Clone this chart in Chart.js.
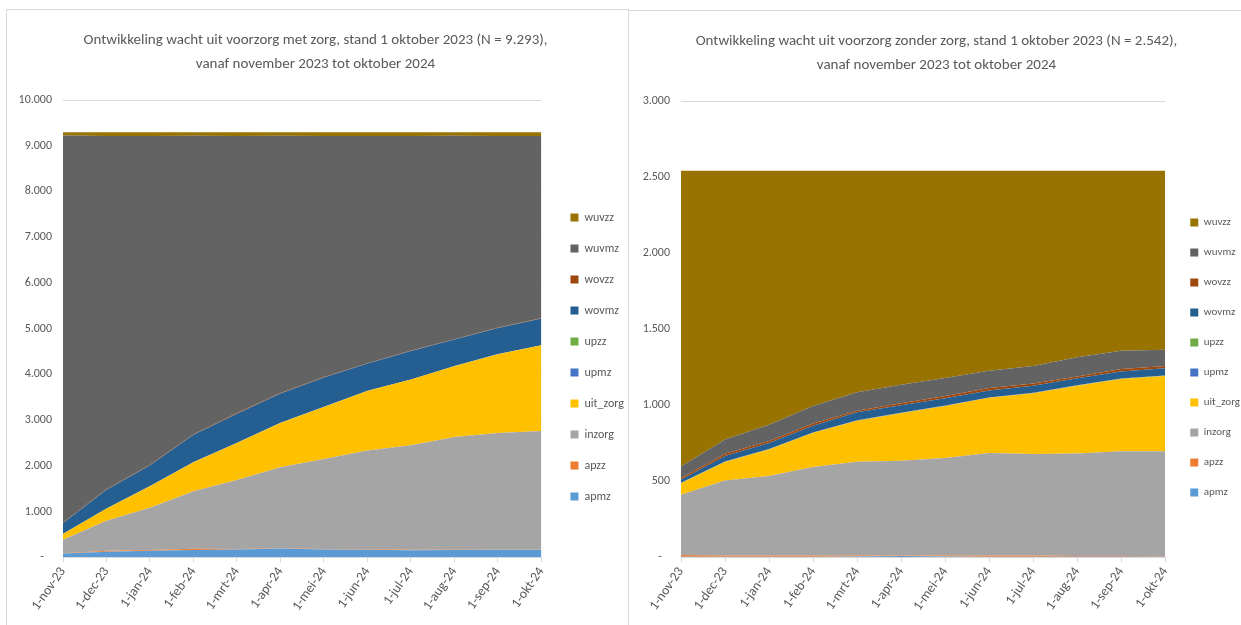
<!DOCTYPE html>
<html>
<head>
<meta charset="utf-8">
<script src="https://cdn.jsdelivr.net/npm/chart.js@4/dist/chart.umd.min.js"></script>
<style>
    body { margin: 0; background: #fff; overflow: hidden; }
    .panel { position: absolute; border-left: 1px solid #d9d9d9; border-top: 1px solid #d9d9d9; }
    #left-panel { left: 6px; top: 9px; width: 622px; height: 616px; }
    #right-panel { left: 628px; top: 10px; width: 613px; height: 615px; }
</style>
</head>
<body>
<div class="panel" id="left-panel"><canvas id="chart-met" width="621" height="615"></canvas></div>
<div class="panel" id="right-panel"><canvas id="chart-zonder" width="612" height="614"></canvas></div>
<script>
// Categories
const months = ['1-nov-23', '1-dec-23', '1-jan-24', '1-feb-24', '1-mrt-24', '1-apr-24', '1-mei-24', '1-jun-24', '1-jul-24', '1-aug-24', '1-sep-24', '1-okt-24']
const seriesNames = ['apmz', 'apzz', 'inzorg', 'uit_zorg', 'upmz', 'upzz', 'wovmz', 'wovzz', 'wuvmz', 'wuvzz']
const seriesColors = ['#5b9bd5', '#ed7d31', '#a5a5a5', '#ffc000', '#4472c4', '#70ad47', '#255e91', '#9e480e', '#636363', '#997300']

// Wacht uit voorzorg MET zorg (N = 9.293)
const metApmz = [80, 120, 140, 160, 170, 190, 170, 165, 155, 160, 165, 165]
const metApzz = [5, 20, 20, 25, 10, 5, 10, 10, 10, 5, 5, 5]
const metInzorg = [295, 660, 920, 1260, 1510, 1775, 1970, 2160, 2285, 2465, 2550, 2590]
const metUitZorg = [130, 260, 475, 635, 810, 965, 1135, 1300, 1435, 1545, 1720, 1875]
const metUpmz = [2, 3, 3, 4, 3, 3, 4, 3, 3, 4, 3, 3]
const metUpzz = [0, 1, 1, 1, 1, 1, 1, 1, 1, 1, 1, 1]
const metWovmz = [238, 411, 451, 595, 636, 641, 640, 596, 621, 580, 571, 581]
const metWovzz = [10, 12, 12, 12, 12, 10, 10, 10, 10, 10, 10, 10]
const metWuvmz = [8463, 7726, 7191, 6526, 6061, 5628, 5273, 4968, 4693, 4448, 4188, 3983]
const metWuvzz = [70, 80, 80, 75, 80, 75, 80, 80, 80, 75, 80, 80]

// Wacht uit voorzorg ZONDER zorg (N = 2.542)
const zonApmz = [3, 3, 3, 3, 5, 8, 5, 3, 3, 3, 3, 3]
const zonApzz = [12, 8, 8, 8, 6, 4, 6, 8, 8, 6, 5, 3]
const zonInzorg = [396, 493, 524, 582, 617, 623, 641, 675, 668, 674, 689, 691]
const zonUitZorg = [76, 122, 173, 225, 270, 312, 343, 362, 400, 445, 475, 495]
const zonUpmz = [2, 2, 2, 2, 2, 2, 2, 2, 2, 2, 2, 2]
const zonUpzz = [1, 1, 1, 1, 1, 1, 1, 1, 1, 1, 1, 1]
const zonWovmz = [19, 37, 41, 44, 52, 50, 48, 46, 46, 46, 46, 48]
const zonWovzz = [12, 14, 13, 14, 10, 12, 14, 16, 14, 12, 16, 14]
const zonWuvmz = [75, 95, 106, 115, 122, 122, 119, 113, 115, 126, 121, 108]
const zonWuvzz = [1946, 1767, 1671, 1548, 1457, 1408, 1363, 1316, 1285, 1227, 1184, 1177]

const metSeries = [metApmz, metApzz, metInzorg, metUitZorg, metUpmz, metUpzz, metWovmz, metWovzz, metWuvmz, metWuvzz]
const zonSeries = [zonApmz, zonApzz, zonInzorg, zonUitZorg, zonUpmz, zonUpzz, zonWovmz, zonWovzz, zonWuvmz, zonWuvzz]

const textColor = '#595959'
const gridColor = '#d9d9d9'
Chart.defaults.font.family = "Carlito, 'Liberation Sans Narrow', 'Liberation Sans', sans-serif"
Chart.defaults.color = textColor

// Moves the legend a bit away from the plot, like Excel does
const legendShift = {
    id: 'legendShift',
    afterLayout (chart) {
        const s = chart.options.plugins.legendShift
        chart.legend.left += s.x
        chart.legend.right += s.x
        chart.legend.top += s.y
        chart.legend.bottom += s.y
    }
}

// Excel style number: 10.000 and a dash for zero
function formatTick (value) {
    if (value === 0) return '-   '
    return String(value).replace(/\B(?=(\d{3})+(?!\d))/g, '.')
}

function buildDatasets (series) {
    return series.map((data, i) => ({
        label: seriesNames[i],
        data: data,
        backgroundColor: seriesColors[i],
        borderColor: 'transparent',
        borderWidth: 0,
        pointRadius: 0,
        tension: 0,
        fill: i === 0 ? 'origin' : '-1'
    }))
}

function makeChart (canvasId, title, series, yMax, yStep, yWidth, padRight, legendFont, shiftX) {
    return new Chart(document.getElementById(canvasId).getContext('2d'), {
        type: 'line',
        data: { labels: months, datasets: buildDatasets(series) },
        plugins: [legendShift],
        options: {
            responsive: false,
            animation: false,
            layout: { padding: { left: 0, right: padRight, top: 0, bottom: 9 } },
            plugins: {
                title: {
                    display: true,
                    text: title,
                    color: textColor,
                    font: { size: 15, weight: 'normal', lineHeight: 1.6 },
                    padding: { top: 18, bottom: 24 }
                },
                legend: {
                    position: 'right',
                    reverse: true,
                    labels: { boxWidth: 8, boxHeight: 8, padding: 19, color: textColor, font: { size: legendFont } }
                },
                legendShift: { x: shiftX, y: 44 },
                tooltip: { enabled: false }
            },
            scales: {
                x: {
                    offset: false,
                    grid: { drawOnChartArea: false, color: gridColor, tickLength: 5 },
                    border: { color: gridColor },
                    ticks: { minRotation: 55, maxRotation: 55, autoSkip: false, color: textColor, font: { size: 13.5 }, padding: 2 }
                },
                y: {
                    stacked: true,
                    min: 0,
                    max: yMax,
                    grid: { color: gridColor, drawTicks: false },
                    border: { display: false },
                    ticks: { stepSize: yStep, padding: 11, color: textColor, font: { size: 12 }, callback: formatTick },
                    afterFit (scale) { scale.width = yWidth }
                }
            }
        }
    })
}

makeChart('chart-met',
    ['Ontwikkeling wacht uit voorzorg met zorg, stand 1 oktober 2023 (N = 9.293),', 'vanaf november 2023 tot oktober 2024'],
    metSeries, 10000, 1000, 56, 4, 12, 10)

makeChart('chart-zonder',
    ['Ontwikkeling wacht uit voorzorg zonder zorg, stand 1 oktober 2023 (N = 2.542),', 'vanaf november 2023 tot oktober 2024'],
    zonSeries, 3000, 500, 52, -3, 11, 6)
</script>
</body>
</html>
